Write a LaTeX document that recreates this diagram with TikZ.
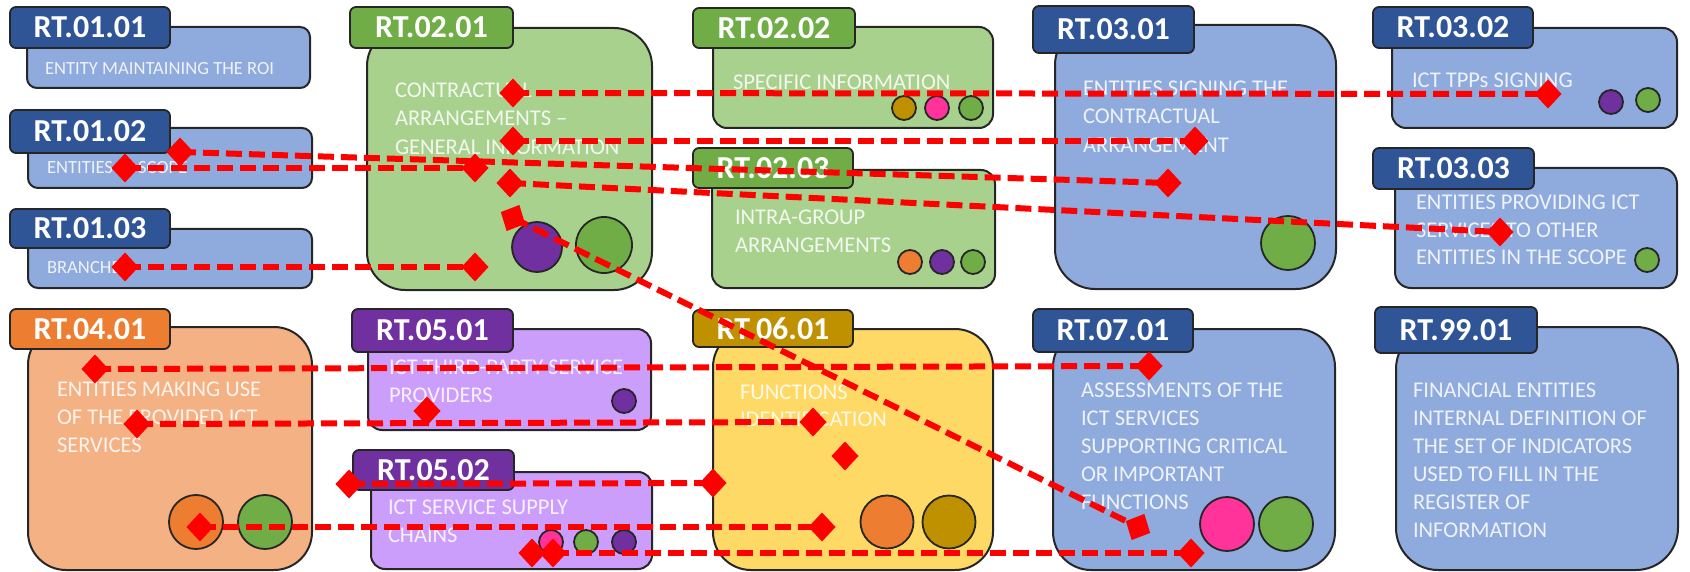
\documentclass[tikz,border=0pt]{standalone}
\usepackage{fontspec}
\setmainfont{Carlito}
\usetikzlibrary{shapes.geometric}
\definecolor{bluebody}{HTML}{8FAADC}
\definecolor{bluetab}{HTML}{2F5597}
\definecolor{greenbody}{HTML}{A9D18E}
\definecolor{greentab}{HTML}{70AD47}
\definecolor{orangebody}{HTML}{F4B183}
\definecolor{orangetab}{HTML}{ED7D31}
\definecolor{purplebody}{HTML}{CC9EFC}
\definecolor{purpletab}{HTML}{7030A0}
\definecolor{goldbody}{HTML}{FFD966}
\definecolor{goldtab}{HTML}{BF9000}
\definecolor{cpink}{HTML}{FF3399}
\definecolor{outline}{HTML}{262626}
\definecolor{linkred}{HTML}{FF0000}
\tikzset{
  body/.style={draw=outline, line width=2pt, inner sep=0, outer sep=0, anchor=north west},
  tabbox/.style={draw=outline, line width=1.8pt, rounded corners=6pt, inner sep=0, outer sep=0,
    text=white, font=\bfseries\fontsize{32}{32}\selectfont},
  txt/.style={anchor=north west, inner sep=0, outer sep=0, align=left, text=white, text opacity=0.85},
  bigtxt/.style={txt, font=\fontsize{22.5}{28}\selectfont},
  smalltxt/.style={txt, font=\fontsize{18.6}{22}\selectfont},
  circ/.style={circle, draw=outline, line width=1.8pt, inner sep=0},
  dm/.style={diamond, fill=linkred, inner sep=0, outer sep=0, minimum width=27, minimum height=29},
  dmr/.style={dm, rotate=-26},
  link/.style={draw=linkred, line width=6pt, dash pattern=on 16pt off 7pt},
}
\begin{document}
\begin{tikzpicture}[x=1pt,y=-1pt]
\useasboundingbox (0,0) rectangle (1690,572);
% ---------- bodies ----------
\node[body, fill=bluebody, rounded corners=10pt, minimum width=283, minimum height=61] (b0101) at (27,27) {};
\node[body, fill=bluebody, rounded corners=10pt, minimum width=284, minimum height=60] (b0102) at (28,128) {};
\node[body, fill=bluebody, rounded corners=10pt, minimum width=284, minimum height=59] (b0103) at (28,229) {};
\node[body, fill=greenbody, rounded corners=38pt, minimum width=285, minimum height=262] (b0201) at (367,28) {};
\node[body, fill=greenbody, rounded corners=14pt, minimum width=280, minimum height=101] (b0202) at (713,27) {};
\node[body, fill=greenbody, rounded corners=14pt, minimum width=283, minimum height=118] (b0203) at (712,170) {};
\node[body, fill=bluebody, rounded corners=40pt, minimum width=281, minimum height=264] (b0301) at (1055,25) {};
\node[body, fill=bluebody, rounded corners=14pt, minimum width=285, minimum height=100] (b0302) at (1392,28) {};
\node[body, fill=bluebody, rounded corners=16pt, minimum width=282, minimum height=120] (b0303) at (1395,168) {};
\node[body, fill=orangebody, rounded corners=38pt, minimum width=284, minimum height=243] (b0401) at (28,327) {};
\node[body, fill=purplebody, rounded corners=14pt, minimum width=283, minimum height=101] (b0501) at (368,329) {};
\node[body, fill=purplebody, rounded corners=14pt, minimum width=281, minimum height=97] (b0502) at (371,472) {};
\node[body, fill=goldbody, rounded corners=38pt, minimum width=280, minimum height=241] (b0601) at (713,329) {};
\node[body, fill=bluebody, rounded corners=38pt, minimum width=282, minimum height=241] (b0701) at (1053,329) {};
\node[body, fill=bluebody, rounded corners=42pt, minimum width=282, minimum height=243] (b9901) at (1396,327) {};
% ---------- tabs ----------
\node[tabbox, fill=bluetab, minimum width=160, minimum height=41] (t0101) at (90,27.5) {\raisebox{-2pt}{RT.01.01}};
\node[tabbox, fill=bluetab, minimum width=160, minimum height=43] (t0102) at (90,131.5) {\raisebox{-2pt}{RT.01.02}};
\node[tabbox, fill=bluetab, minimum width=160, minimum height=39] (t0103) at (90,228.5) {\raisebox{-2pt}{RT.01.03}};
\node[tabbox, fill=greentab, minimum width=163, minimum height=41] (t0201) at (431.5,27.5) {\raisebox{-2pt}{RT.02.01}};
\node[tabbox, fill=greentab, minimum width=162, minimum height=40] (t0202) at (774,28) {\raisebox{-2pt}{RT.02.02}};
\node[tabbox, fill=greentab, minimum width=160, minimum height=40] (t0203) at (773,168) {\raisebox{-2pt}{RT.02.03}};
\node[tabbox, fill=bluetab, minimum width=161, minimum height=47] (t0301) at (1113.5,29.5) {\raisebox{-2pt}{RT.03.01}};
\node[tabbox, fill=bluetab, minimum width=160, minimum height=41] (t0302) at (1453,27.5) {\raisebox{-2pt}{RT.03.02}};
\node[tabbox, fill=bluetab, minimum width=161, minimum height=41] (t0303) at (1453.5,168.5) {\raisebox{-2pt}{RT.03.03}};
\node[tabbox, fill=orangetab, minimum width=160, minimum height=40] (t0401) at (90,329) {\raisebox{-2pt}{RT.04.01}};
\node[tabbox, fill=purpletab, minimum width=161, minimum height=43] (t0501) at (432.5,330.5) {\raisebox{-2pt}{RT.05.01}};
\node[tabbox, fill=purpletab, minimum width=161, minimum height=40] (t0502) at (433.5,470) {\raisebox{-2pt}{RT.05.02}};
\node[tabbox, fill=goldtab, minimum width=160, minimum height=37] (t0601) at (773,328.5) {\raisebox{-2pt}{RT.06.01}};
\node[tabbox, fill=bluetab, minimum width=160, minimum height=43] (t0701) at (1113,330.5) {\raisebox{-2pt}{RT.07.01}};
\node[tabbox, fill=bluetab, minimum width=162, minimum height=46] (t9901) at (1456,330) {\raisebox{-2pt}{RT.99.01}};
% ---------- texts ----------
\node[smalltxt] (x0101) at (45,62.1) {ENTITY MAINTAINING THE ROI};
\node[smalltxt] (x0102) at (47,161.1) {ENTITIES IN SCOPE};
\node[smalltxt] (x0103) at (47,261.1) {BRANCHES};
\node[bigtxt, font=\fontsize{22.5}{28.5}\selectfont] (x0201) at (395,82.9) {CONTRACTUAL\\ARRANGEMENTS –\\GENERAL INFORMATION};
\node[bigtxt] (x0202) at (733,74.9) {SPECIFIC INFORMATION};
\node[bigtxt] (x0203) at (735,209.9) {INTRA-GROUP\\ARRANGEMENTS};
\node[bigtxt, font=\fontsize{22.5}{28.5}\selectfont] (x0301) at (1083,80.9) {ENTITIES SIGNING THE\\CONTRACTUAL\\ARRANGEMENT};
\node[bigtxt] (x0302) at (1412,72.9) {ICT TPPs SIGNING};
\node[bigtxt, font=\fontsize{22.5}{27.5}\selectfont] (x0303) at (1416,194.9) {ENTITIES PROVIDING ICT\\SERVICES TO OTHER\\ENTITIES IN THE SCOPE};
\node[bigtxt] (x0401) at (57,381.9) {ENTITIES MAKING USE\\OF THE PROVIDED ICT\\SERVICES};
\node[bigtxt] (x0501) at (389,359.9) {ICT THIRD-PARTY SERVICE\\PROVIDERS};
\node[bigtxt] (x0502) at (388,499.9) {ICT SERVICE SUPPLY\\CHAINS};
\node[bigtxt, font=\fontsize{22.5}{27}\selectfont] (x0601) at (740,384.9) {FUNCTIONS\\IDENTIFICATION};
\node[bigtxt] (x0701) at (1081,382.9) {ASSESSMENTS OF THE\\ICT SERVICES\\SUPPORTING CRITICAL\\OR IMPORTANT\\FUNCTIONS};
\node[bigtxt] (x9901) at (1413,382.9) {FINANCIAL ENTITIES\\INTERNAL DEFINITION OF\\THE SET OF INDICATORS\\USED TO FILL IN THE\\REGISTER OF\\INFORMATION};
% ---------- circles ----------
\node[circ, fill=purpletab, minimum size=50] (c0201a) at (537,247) {};
\node[circ, fill=greentab, minimum size=56] (c0201b) at (604,245) {};
\node[circ, fill=goldtab, minimum size=24] (c0202a) at (904,108) {};
\node[circ, fill=cpink, minimum size=24] (c0202b) at (937,108) {};
\node[circ, fill=greentab, minimum size=24] (c0202c) at (971,108) {};
\node[circ, fill=orangetab, minimum size=24] (c0203a) at (910,262) {};
\node[circ, fill=purpletab, minimum size=24] (c0203b) at (942,262) {};
\node[circ, fill=greentab, minimum size=24] (c0203c) at (973,262) {};
\node[circ, fill=greentab, minimum size=54] (c0301) at (1288,243) {};
\node[circ, fill=purpletab, minimum size=24] (c0302a) at (1611,102) {};
\node[circ, fill=greentab, minimum size=24] (c0302b) at (1648,100) {};
\node[circ, fill=greentab, minimum size=24] (c0303) at (1647,260) {};
\node[circ, fill=orangetab, minimum size=54] (c0401a) at (196,522) {};
\node[circ, fill=greentab, minimum size=54] (c0401b) at (265,522) {};
\node[circ, fill=purpletab, minimum size=24] (c0501) at (624,401) {};
\node[circ, fill=cpink, minimum size=24] (c0502a) at (551,542) {};
\node[circ, fill=greentab, minimum size=24] (c0502b) at (586,542) {};
\node[circ, fill=purpletab, minimum size=24] (c0502c) at (624,542) {};
\node[circ, fill=orangetab, minimum size=53] (c0601a) at (887,522) {};
\node[circ, fill=goldtab, minimum size=53] (c0601b) at (949,522) {};
\node[circ, fill=cpink, minimum size=54] (c0701a) at (1227,524) {};
\node[circ, fill=greentab, minimum size=54] (c0701b) at (1286,524) {};
% ---------- diamonds ----------
\node[dm] (da1) at (513,93) {};   \node[dm] (db1) at (1548,94) {};
\node[dm] (da2) at (513,141) {};  \node[dm] (db2) at (1195,141) {};
\node[dm] (da3) at (180,152) {};  \node[dm] (db3) at (1168,183) {};
\node[dm] (da4) at (510,183) {};  \node[dm] (db4) at (1500,232) {};
\node[dm] (da5) at (125,168) {};  \node[dm] (db5) at (475,168) {};
\node[dm] (da6) at (125,267) {};  \node[dm] (db6) at (475,267) {};
\node[dmr] (da7) at (513,218) {}; \node[dmr] (db7) at (1138,527) {};
\node[dm] (da8) at (95,369) {};   \node[dm] (db8) at (1149,366) {};
\node[dm] (da9) at (137,424) {};  \node[dm] (db9) at (813,422) {};
\node[dm] (da10) at (349,484) {}; \node[dm] (db10) at (713,483) {};
\node[dm] (da11) at (200,527) {}; \node[dm] (db11) at (822,527) {};
\node[dm] (da12) at (553,553) {}; \node[dm] (db12) at (1191,553) {};
\node[dm] (dx1) at (427,411) {};
\node[dm] (dx2) at (845,456) {};
\node[dm] (dx3) at (532,553) {};
% ---------- connectors ----------
\foreach \i in {1,...,12} {
  \draw[link] (da\i.center) -- (db\i.center);
}
\end{tikzpicture}
\end{document}
